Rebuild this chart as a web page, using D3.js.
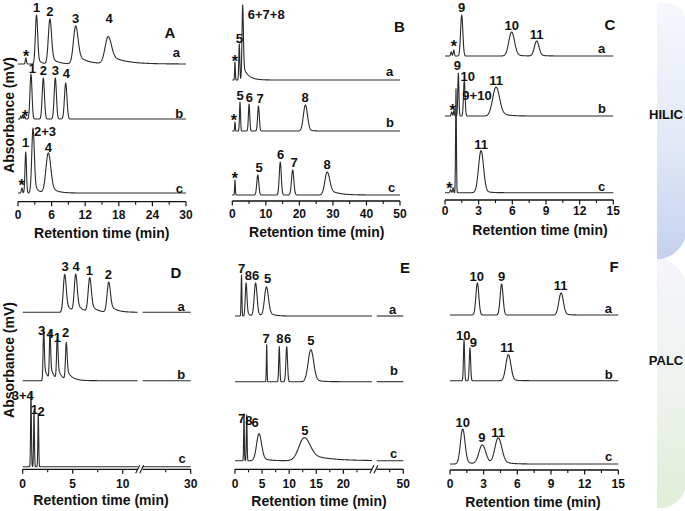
<!DOCTYPE html>
<html><head><meta charset="utf-8">
<script src="https://cdn.jsdelivr.net/npm/d3@7"></script>
<style>
body{margin:0;background:#fff}
svg{display:block}
text{font-family:"Liberation Sans",Arial,Helvetica,sans-serif;font-weight:bold;fill:#111}
</style>
</head><body>
<svg id="chart" width="685" height="511"></svg>
<script>
// ---------- DATA ----------
// peaks: [label, retention time (min), height (mV), sigma (min), tail fraction, tail tau (min)]
// labels: [text, retention time (min), level above trace baseline (mV)]
const pkA_a = [["*",1.4,6,0.1],["1",3.3,49,0.2,0.15,0.6],["2",5.7,45,0.28,0.2,1.0],["3",10.3,38,0.4,0.3,1.6],["4",16.1,27,0.55,0.35,2.6]];
const lbA_a = [["*",1.43,11],["1",3.34,52.5],["2",5.71,48.5],["3",10.3,41.3],["4",16.25,41.3]];
const pkA_b = [["*",0.5,3,0.08],["*",0.85,4,0.08],["*",1.2,3,0.08],["1",2.32,45,0.18],["2",4.52,41,0.2],["3",6.66,41,0.2],["4",8.52,36,0.22]];
const lbA_b = [["*",1.25,6],["1",2.55,46],["2",4.52,44],["3",6.66,44],["4",8.63,40.7]];
const pkA_c = [["*",0.7,5,0.1],["1",1.38,41,0.13],["2+3",2.68,65,0.22,0.2,0.6],["4",5.41,40,0.42,0.25,1.0]];
const lbA_c = [["*",0.66,11.3],["1",1.38,46],["2+3",4.82,57],["4",5.41,41.3]];

const pkB_a = [["*",0.8,18,0.1],["5",2.09,36,0.15],["6+7+8",3.1,75,0.2,0.2,1.5]];
const lbB_a = [["*",0.8,22],["5",2.09,36.7],["6+7+8",10.1,60.7]];
const pkB_b = [["*",0.8,9,0.1],["5",2.3,29,0.15],["6",5.0,27,0.2],["7",7.8,25,0.25],["8",21.8,26,0.6,0.1,1]];
const lbB_b = [["*",0.5,14.3],["5",2.3,31],["6",5.07,29.5],["7",8.26,28],["8",21.7,28.7]];
const pkB_c = [["*",0.8,15,0.1],["5",7.6,20,0.3],["6",14.3,33,0.3],["7",18.0,25,0.35],["8",28.3,23,0.7,0.3,2.5]];
const lbB_c = [["*",0.8,20],["5",7.96,23],["6",14.4,36],["7",18.4,28.5],["8",28.3,26]];

const pkC_a = [["*",0.55,4,0.05],["*",0.78,6,0.05],["9",1.49,41,0.1],["10",5.94,24,0.25,0.1,0.5],["11",8.17,15,0.2,0.1,0.5]];
const lbC_a = [["*",0.8,12.7],["9",1.49,44.3],["10",5.94,26],["11",8.17,17]];
const pkC_b = [["*",0.6,4,0.05],["*",0.8,6,0.04],["9",1.19,43,0.05],["10",1.72,36,0.07],["11",4.55,29,0.3,0.2,0.6]];
const lbC_b = [["*",0.69,9.3],["9",1.1,46],["10",2.02,35.3],["11",4.55,31]];
const pkC_c = [["*",0.5,3,0.05],["*",0.72,5,0.04],["9+10",0.98,104,0.035],["11",3.21,42,0.22,0.1,0.4]];
const lbC_c = [["*",0.38,7.7],["9+10",2.85,92.7],["11",3.21,43.4]];

const pkD_a = [["3",4.2,38,0.14,0.3,0.5],["4",5.3,37,0.14,0.3,0.5],["1",6.7,34,0.15,0.3,0.5],["2",8.6,30,0.16,0.3,0.6]];
const lbD_a = [["3",4.23,41.3],["4",5.33,41.3],["1",6.66,37.3],["2",8.56,33.3]];
const pkD_b = [["3",2.1,52,0.06,0.3,0.35],["4",2.73,48,0.06,0.3,0.35],["1",3.46,42,0.07,0.3,0.4],["2",4.36,37,0.08,0.3,0.5]];
const lbD_b = [["3",1.9,45.7],["4",2.73,42.4],["1",3.46,39],["2",4.3,43.4]];
const pkD_c = [["3+4",0.83,73,0.04],["1",1.13,56,0.04],["2",1.56,53,0.04]];
const lbD_c = [["3+4",0.0,66.5],["1",1.16,52.5],["2",1.83,50.7]];

const pkE_a = [["7",1.2,41,0.07],["8",2.05,33,0.15,0.2,0.4],["6",3.8,33,0.25,0.2,0.5],["5",5.8,29,0.35,0.25,0.8]];
const lbE_a = [["7",1.24,42.7],["8",2.45,36],["6",3.82,36],["5",6.03,32.7]];
const pkE_b = [["7",5.85,37,0.06],["8",8.17,35,0.1],["6",9.54,35,0.15],["5",14.0,32,0.5,0.15,1]];
const lbE_b = [["7",5.72,38.7],["8",8.3,38.7],["6",9.72,38.7],["5",14.0,36.7]];
const pkE_c = [["7",1.66,47,0.06],["8",2.16,46,0.07],["6",4.43,27,0.45,0.2,1],["5",12.8,23,1.0,0.35,3.5]];
const lbE_c = [["7",1.2,38],["8",2.55,35.7],["6",3.69,34],["5",12.9,25.7]];

const pkF_a = [["10",2.44,32,0.13],["9",4.6,31,0.13],["11",9.9,22,0.2,0.1,0.4]];
const lbF_a = [["10",2.38,34],["9",4.6,34],["11",9.87,25]];
const pkF_b = [["10",1.25,41,0.05],["9",1.78,33,0.06],["11",5.2,26,0.22,0.1,0.4]];
const lbF_b = [["10",1.19,40.7],["9",2.08,33.4],["11",5.1,29]];
const pkF_c = [["10",1.13,35,0.2,0.15,0.4],["9",2.88,19,0.3,0.15,0.5],["11",4.3,26,0.3,0.2,0.6]];
const lbF_c = [["10",1.13,37.3],["9",2.83,22.3],["11",4.3,27.3]];

// tick labels
const ticksA = [0,6,12,18,24,30], minorA = [3,9,15,21,27];
const ticksB = [0,10,20,30,40,50], minorB = [5,15,25,35,45];
const ticksC = [0,3,6,9,12,15], minorC = [1.5,4.5,7.5,10.5,13.5];
const ticksD = [0,5,10,30], minorD = [2.5,7.5,27.5];
const ticksE = [0,5,10,15,20,50], minorE = [2.5,7.5,12.5,17.5,22.5,47.5];
const ticksF = [0,3,6,9,12,15], minorF = [1.5,4.5,7.5,10.5,13.5];

const traceNames = ["a","b","c"];
const groupNames = ["HILIC","PALC"];
const xTitle = "Retention time (min)";
const yTitle = "Absorbance (mV)";

// ---------- LAYOUT ----------
const panels = [
 {name:"A", segs:[{d:[0,30],r:[18,186]}], axisY:201.7, ticks:ticksA, minor:minorA, tickY:219, title:[101.7,238], letter:[170,38.3],
  traces:[{base:64,pk:pkA_a,lb:lbA_a,tag:[176.3,56.7]},{base:119,pk:pkA_b,lb:lbA_b,tag:[179.3,118.3]},{base:193,pk:pkA_c,lb:lbA_c,tag:[179.3,193.3]}]},
 {name:"B", segs:[{d:[0,50],r:[232.3,400]}], axisY:201, ticks:ticksB, minor:minorB, tickY:218.3, title:[316.7,236.7], letter:[399.5,31.7],
  traces:[{base:80,pk:pkB_a,lb:lbB_a,tag:[389.7,76]},{base:131,pk:pkB_b,lb:lbB_b,tag:[390,127.3]},{base:195,pk:pkB_c,lb:lbB_c,tag:[391.7,191.7]}]},
 {name:"C", segs:[{d:[0,15],r:[445,613.3]}], axisY:200, ticks:ticksC, minor:minorC, tickY:215, title:[540,235], letter:[610,30],
  traces:[{base:56,pk:pkC_a,lb:lbC_a,tag:[601.7,52.7]},{base:116,pk:pkC_b,lb:lbC_b,tag:[602,113.3]},{base:192.7,pk:pkC_c,lb:lbC_c,tag:[601.7,190.7]}]},
 {name:"D", segs:[{d:[0,11.5],r:[22.7,137.7]},{d:[25.2,30],r:[142.7,190.7]}], axisY:469.3, ticks:ticksD, minor:minorD, tickY:488.3, title:[101,505], letter:[176,278.3], brk:140.2,
  traces:[{base:312.3,pk:pkD_a,lb:lbD_a,tag:[181,311]},{base:380.7,pk:pkD_b,lb:lbD_b,tag:[181.3,379]},{base:466.7,pk:pkD_c,lb:lbD_c,tag:[182,462.7]}]},
 {name:"E", segs:[{d:[0,25.3],r:[235,372.1]},{d:[45.1,50],r:[376.7,403.3]}], axisY:469.3, ticks:ticksE, minor:minorE, tickY:488, title:[319,506], letter:[405,273.3], brk:374.4,
  traces:[{base:316,pk:pkE_a,lb:lbE_a,tag:[392.7,314]},{base:381.7,pk:pkE_b,lb:lbE_b,tag:[394,375]},{base:460.7,pk:pkE_c,lb:lbE_c,tag:[393.7,458.3]}]},
 {name:"F", segs:[{d:[0,15],r:[450,618.3]}], axisY:470, ticks:ticksF, minor:minorF, tickY:488.3, title:[533,506.7], letter:[614,271.7],
  traces:[{base:315,pk:pkF_a,lb:lbF_a,tag:[608.3,313]},{base:380.7,pk:pkF_b,lb:lbF_b,tag:[608.7,378.5]},{base:464,pk:pkF_c,lb:lbF_c,tag:[608.7,460.7]}]}
];

// ---------- DRAW ----------
const svg = d3.select("#chart");
const defs = svg.append("defs");
const gH = defs.append("linearGradient").attr("id","gH").attr("x1",0).attr("y1",0).attr("x2",0).attr("y2",1);
gH.append("stop").attr("offset","0%").attr("stop-color","#f5f7fc");
gH.append("stop").attr("offset","55%").attr("stop-color","#e2e8f6");
gH.append("stop").attr("offset","100%").attr("stop-color","#c4d1ee");
const gP = defs.append("linearGradient").attr("id","gP").attr("x1",0).attr("y1",0).attr("x2",0).attr("y2",1);
gP.append("stop").attr("offset","0%").attr("stop-color","#f4f5fb");
gP.append("stop").attr("offset","50%").attr("stop-color","#eef3ee");
gP.append("stop").attr("offset","100%").attr("stop-color","#e0eed8");

svg.append("path").attr("d","M657,3 L667,3 Q688,3 688,38 L688,220 Q688,252 662,259 L657,259 Z").attr("fill","url(#gH)");
svg.append("path").attr("d","M657,259 L662,259 Q688,266 688,300 L688,470 Q688,503 664,508 L657,508 Z").attr("fill","url(#gP)");
svg.append("text").attr("x",666).attr("y",118.5).attr("text-anchor","middle").style("font-size","13px").text(groupNames[0]);
svg.append("text").attr("x",666).attr("y",365).attr("text-anchor","middle").style("font-size","13px").text(groupNames[1]);

[[13.5,115],[13.5,360]].forEach(p=>{
  svg.append("text").attr("transform",`translate(${p[0]},${p[1]}) rotate(-90)`).attr("text-anchor","middle").style("font-size","14px").text(yTitle);
});

function signal(peaks,t){
  let s=0;
  for(const p of peaks){
    const t0=p[1],h=p[2],sg=p[3],f=p[4]||0,tau=p[5]||1;
    const d=t-t0, g=Math.exp(-0.5*(d/sg)*(d/sg));
    if(d<=0||!f) s+=h*g; else s+=h*(g+f*(1-g)*Math.exp(-d/tau));
  }
  return s;
}

panels.forEach(P=>{
  const g = svg.append("g");
  const scales = P.segs.map(s=>d3.scaleLinear().domain(s.d).range(s.r));
  const xOf = t=>{
    for(let i=0;i<P.segs.length;i++){ if(t<=P.segs[i].d[1]) return scales[i](t); }
    return scales[P.segs.length-1](t);
  };
  P.traces.forEach((T,ti)=>{
    const y = d3.scaleLinear().domain([0,100]).range([T.base,T.base-100]);
    P.segs.forEach((s,si)=>{
      const x = scales[si];
      const n = Math.ceil((s.r[1]-s.r[0])*3);
      let pts = d3.range(n+1).map(i=>s.d[0]+(s.d[1]-s.d[0])*i/n);
      T.pk.forEach(p=>{ [-1,-0.5,0,0.5,1].forEach(k=>{const t=p[1]+k*p[3]; if(t>s.d[0]&&t<s.d[1]) pts.push(t);}); });
      pts.sort((a,b)=>a-b);
      g.append("path").attr("d",d3.line().x(t=>x(t)).y(t=>y(signal(T.pk,t)))(pts))
        .attr("fill","none").attr("stroke","#2b2b2b").attr("stroke-width",1.1).attr("stroke-linejoin","round");
    });
    T.lb.forEach(l=>{
      const isStar = l[0]==="*";
      g.append("text").attr("x",xOf(l[1])).attr("y",y(l[2]) + (isStar?9:0)).attr("text-anchor","middle")
        .style("font-size",isStar?"16px":"13px").text(l[0]);
    });
    g.append("text").attr("x",T.tag[0]).attr("y",T.tag[1]).attr("text-anchor","middle").style("font-size","13px").text(traceNames[ti]);
  });
  P.segs.forEach((s,si)=>{
    const x=scales[si];
    g.append("line").attr("x1",s.r[0]).attr("x2",s.r[1]).attr("y1",P.axisY).attr("y2",P.axisY).attr("stroke","#111").attr("stroke-width",1.3);
    P.ticks.filter(t=>t>=s.d[0]-1e-9&&t<=s.d[1]+1e-9).forEach(t=>{
      g.append("line").attr("x1",x(t)).attr("x2",x(t)).attr("y1",P.axisY).attr("y2",P.axisY+4.5).attr("stroke","#111").attr("stroke-width",1.2);
      g.append("text").attr("x",x(t)).attr("y",P.tickY).attr("text-anchor","middle").style("font-size","12px").text(t);
    });
    P.minor.filter(t=>t>=s.d[0]&&t<=s.d[1]).forEach(t=>{
      g.append("line").attr("x1",x(t)).attr("x2",x(t)).attr("y1",P.axisY).attr("y2",P.axisY+3).attr("stroke","#111").attr("stroke-width",1.1);
    });
  });
  if(P.brk){
    [-2.5,1.5].forEach(o=>{
      g.append("line").attr("x1",P.brk+o-2).attr("y1",P.axisY+4).attr("x2",P.brk+o+2).attr("y2",P.axisY-4).attr("stroke","#111").attr("stroke-width",1.1);
    });
  }
  g.append("text").attr("x",P.title[0]).attr("y",P.title[1]).attr("text-anchor","middle").style("font-size","14px").text(xTitle);
  g.append("text").attr("x",P.letter[0]).attr("y",P.letter[1]).attr("text-anchor","middle").style("font-size","15px").text(P.name);
});
</script>
</body></html>
